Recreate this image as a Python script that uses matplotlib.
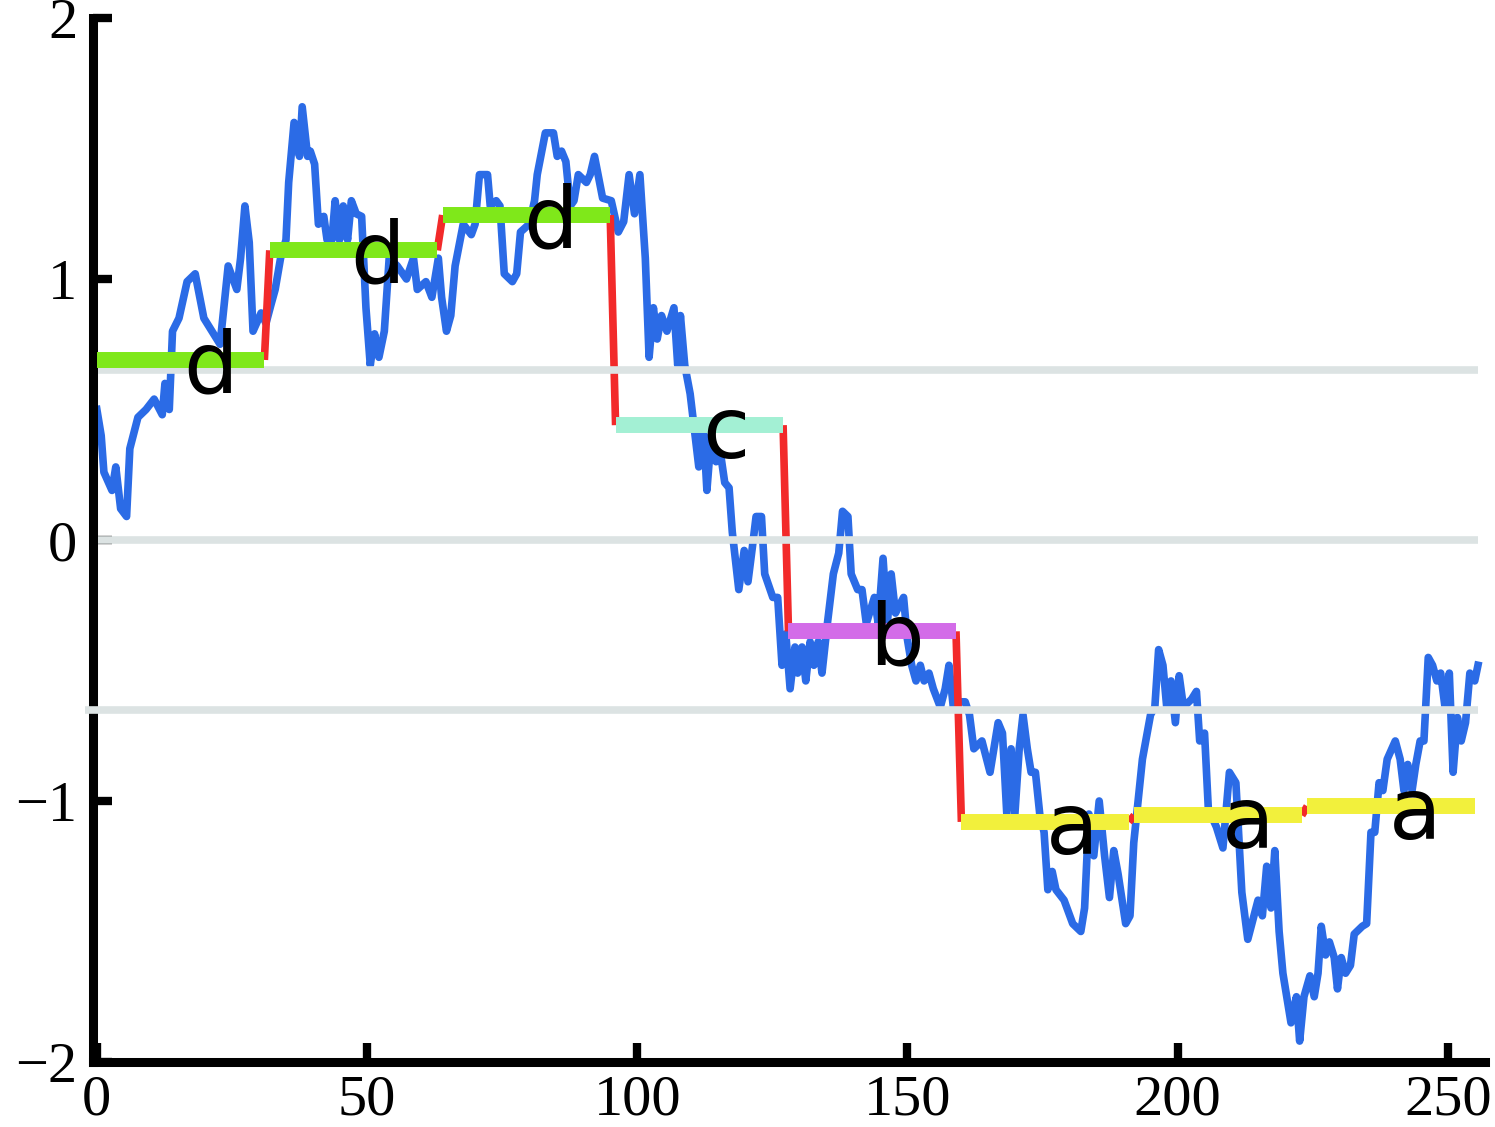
import matplotlib
matplotlib.use("Agg")
import matplotlib.pyplot as plt

# random walk
walk_x = [0, 0.8, 1.3, 2.8, 3.5, 4.4, 5.5, 6.1, 7.6, 9.1, 10.6, 12.1, 12.6, 13.4, 14.0,
          15.2, 16.7, 18.2, 19.8, 21.3, 22.8, 24.3, 25.9, 26.6, 27.4, 28.2, 28.9, 30.4, 31.3,
          32.2, 33.0, 34.0, 35.0, 35.5, 36.5, 37.5, 38.0, 39.0, 39.5, 40.3, 41.0, 42.0, 42.6,
          43.5, 44.1, 44.9, 45.6, 46.4, 47.1, 48.0, 49.0, 49.8, 50.6, 51.4, 52.2, 53.2, 54.1,
          55.6, 57.3, 58.6, 59.3, 60.9, 62.0, 63.2, 63.8, 64.7, 65.5, 66.3, 67.8, 69.3, 70.0,
          70.8, 72.3, 72.8, 73.9, 74.6, 75.4, 76.9, 77.7, 78.4, 80.0, 81.0, 81.5, 83.0, 84.5,
          85.2, 86.0, 86.8, 87.6, 88.3, 89.1, 90.6, 91.3, 92.1, 93.6, 95.2, 96.5,
          97.5, 98.5, 99.5, 100.5, 101.5, 102.2, 103.0, 103.7, 104.5, 105.5, 106.8, 107.5,
          108.0, 108.8, 109.8, 111.4, 112.2, 112.9, 113.7, 114.6, 115.5, 116.2, 117.0, 117.6,
          118.8, 119.8, 120.5, 121.3, 122.0, 123.0, 123.6, 125.1, 126.0, 126.8, 127.5, 128.3,
          129.2, 129.7, 130.5, 131.2, 132.0, 132.7, 133.5, 134.2, 135.2, 136.3, 137.3, 138.0,
          139.0, 139.6, 140.8, 141.6, 142.4, 143.9, 144.6, 145.5, 146.3, 147.0, 147.8, 149.3,
          150.0, 150.8, 151.6, 152.4, 153.1, 154.0, 154.8, 156.1, 157.0, 157.7, 158.5, 159.2,
          160.7, 161.5, 162.3, 163.8, 165.3, 166.8, 167.6, 168.4, 169.2, 169.9, 170.7, 171.4,
          172.2, 172.9, 173.7, 174.5, 175.3, 176.0, 176.8, 177.5, 179.0, 180.6, 182.1, 182.8,
          183.6, 184.5, 185.5, 186.5, 187.4, 188.2, 189.0, 190.4, 191.2, 191.9,
          193.5, 195.0, 195.8, 196.5, 197.3, 198.0, 198.8, 199.6, 200.3, 201.1, 202.6, 203.5,
          204.1, 205.0, 205.7, 207.2, 208.4, 209.6, 210.8, 211.9, 213.0, 214.9, 215.7, 216.5,
          217.3, 218.0, 218.8, 219.5, 221.0, 222.0, 222.6, 223.4,
          224.5, 225.3, 226.0, 226.6, 227.4, 228.1, 229.0, 229.6, 230.3, 231.1, 232.0, 232.7,
          234.2, 235.0, 235.8, 236.5, 237.3, 238.0, 238.8, 240.3, 241.2, 241.9, 242.6, 243.4,
          244.1, 244.9, 245.6, 246.4, 247.2, 248.0, 248.7, 249.5, 250.3, 251.0, 251.8, 252.5,
          253.3, 254.1, 255.0, 255.6]
walk_y = [0.50, 0.40, 0.26, 0.19, 0.28, 0.12, 0.09, 0.35, 0.47, 0.50, 0.54, 0.48, 0.60, 0.50, 0.80,
          0.85, 0.99, 1.02, 0.85, 0.80, 0.75, 1.05, 0.96, 1.08, 1.28, 1.14, 0.80, 0.87, 0.83,
          0.90, 0.96, 1.08, 1.15, 1.37, 1.60, 1.47, 1.66, 1.47, 1.49, 1.44, 1.21, 1.24, 1.15,
          1.15, 1.30, 1.15, 1.28, 1.15, 1.30, 1.25, 1.24, 0.89, 0.67, 0.79, 0.70, 0.80, 1.08,
          1.05, 1.00, 1.08, 0.96, 0.99, 0.93, 1.08, 0.93, 0.80, 0.86, 1.05, 1.21, 1.17, 1.21,
          1.40, 1.40, 1.28, 1.30, 1.28, 1.02, 0.99, 1.02, 1.18, 1.21, 1.30, 1.40, 1.56, 1.56,
          1.47, 1.49, 1.45, 1.28, 1.30, 1.40, 1.37, 1.40, 1.47, 1.31, 1.30, 1.18,
          1.22, 1.40, 1.25, 1.40, 1.08, 0.70, 0.89, 0.77, 0.86, 0.80, 0.89, 0.67,
          0.86, 0.67, 0.56, 0.28, 0.45, 0.19, 0.40, 0.30, 0.32, 0.22, 0.20, 0.03,
          -0.19, -0.04, -0.16, -0.03, 0.09, 0.09, -0.13, -0.22, -0.22, -0.48, -0.36, -0.57,
          -0.41, -0.51, -0.41, -0.54, -0.39, -0.48, -0.39, -0.51, -0.32, -0.13, -0.05, 0.11,
          0.09, -0.13, -0.19, -0.19, -0.32, -0.22, -0.32, -0.07, -0.32, -0.13, -0.28, -0.22,
          -0.38, -0.48, -0.54, -0.48, -0.54, -0.51, -0.57, -0.64, -0.57, -0.48, -0.64, -0.62,
          -0.62, -0.67, -0.80, -0.77, -0.89, -0.70, -0.74, -1.05, -0.80, -1.05, -0.80, -0.67,
          -0.80, -0.89, -0.89, -1.05, -1.12, -1.34, -1.27, -1.34, -1.38, -1.47, -1.50, -1.41,
          -1.05, -1.21, -1.00, -1.21, -1.37, -1.19, -1.28, -1.47, -1.44, -1.16,
          -0.84, -0.67, -0.64, -0.42, -0.48, -0.64, -0.54, -0.70, -0.52, -0.64, -0.61, -0.58,
          -0.77, -0.74, -1.03, -1.10, -1.18, -0.89, -0.93, -1.35, -1.53, -1.38, -1.44, -1.25,
          -1.41, -1.19, -1.50, -1.66, -1.85, -1.75, -1.92, -1.75,
          -1.67, -1.75, -1.66, -1.48, -1.59, -1.54, -1.60, -1.72, -1.60, -1.66, -1.63, -1.51,
          -1.48, -1.47, -1.12, -1.12, -0.93, -0.96, -0.84, -0.77, -0.84, -0.96, -0.86, -0.96,
          -0.86, -0.77, -0.77, -0.45, -0.48, -0.54, -0.51, -0.64, -0.51, -0.89, -0.68, -0.77,
          -0.70, -0.51, -0.54, -0.48]

# PAA segments and their SAX letters
seg_start = [0, 32, 64, 96, 128, 160, 192, 224]
seg_end = [31, 63, 95, 127, 159, 191, 223, 255]
seg_level = [0.69, 1.11, 1.245, 0.44, -0.35, -1.08, -1.055, -1.02]
seg_letter = ["d", "d", "d", "c", "b", "a", "a", "a"]
letter_x = [21, 52, 84, 116.5, 148, 180.5, 213, 244]
letter_color = {"a": "#F2F03C", "b": "#D36CE8", "c": "#A3F0D4", "d": "#7FE81A"}

breakpoints = [-0.65, 0.0, 0.65]

fig = plt.figure(figsize=(14.95, 11.27), dpi=100)
ax = fig.add_axes([0.0619, 0.0577, 0.9314, 0.9263])

ax.plot(walk_x, walk_y, color="#2B6BE6", lw=5.5, zorder=2)

# red connectors between segments
for i in range(len(seg_start) - 1):
    ax.plot([seg_end[i], seg_start[i + 1]], [seg_level[i], seg_level[i + 1]],
            color="#F22A2A", lw=5.5, zorder=2.4, solid_capstyle="butt")

# breakpoint lines
for b in breakpoints:
    x0 = -2.2 if b < 0 else 0.3
    ax.plot([x0, 255.6], [b, b], color="#DCE3E3", lw=5.5, zorder=3,
            solid_capstyle="butt", clip_on=False)

for s, e, lv, let, lx in zip(seg_start, seg_end, seg_level, seg_letter, letter_x):
    ax.plot([s, e], [lv, lv], color=letter_color[let], lw=11.5, zorder=4,
            solid_capstyle="butt")
    ax.text(lx, lv - 0.125, let, fontsize=62, family="DejaVu Sans", color="black",
            ha="center", va="baseline", zorder=5)

ax.set_xlim(-0.8, 256.9)
ax.set_ylim(-2, 2)
ax.set_xticks([0, 50, 100, 150, 200, 250])
ax.set_yticks([-2, -1, 0, 1, 2])
ax.set_yticklabels(["\u22122", "\u22121", "0", "1", "2"])
for lab in ax.get_xticklabels() + ax.get_yticklabels():
    lab.set_family("Liberation Serif")
    lab.set_fontsize(42)

ax.spines["top"].set_visible(False)
ax.spines["right"].set_visible(False)
for sp in ["left", "bottom"]:
    ax.spines[sp].set_linewidth(6.5)
ax.tick_params(direction="in", length=14, width=6)
ax.tick_params(axis="y", pad=11)
ax.tick_params(axis="x", pad=9)

fig.savefig("out.png", dpi=100)
